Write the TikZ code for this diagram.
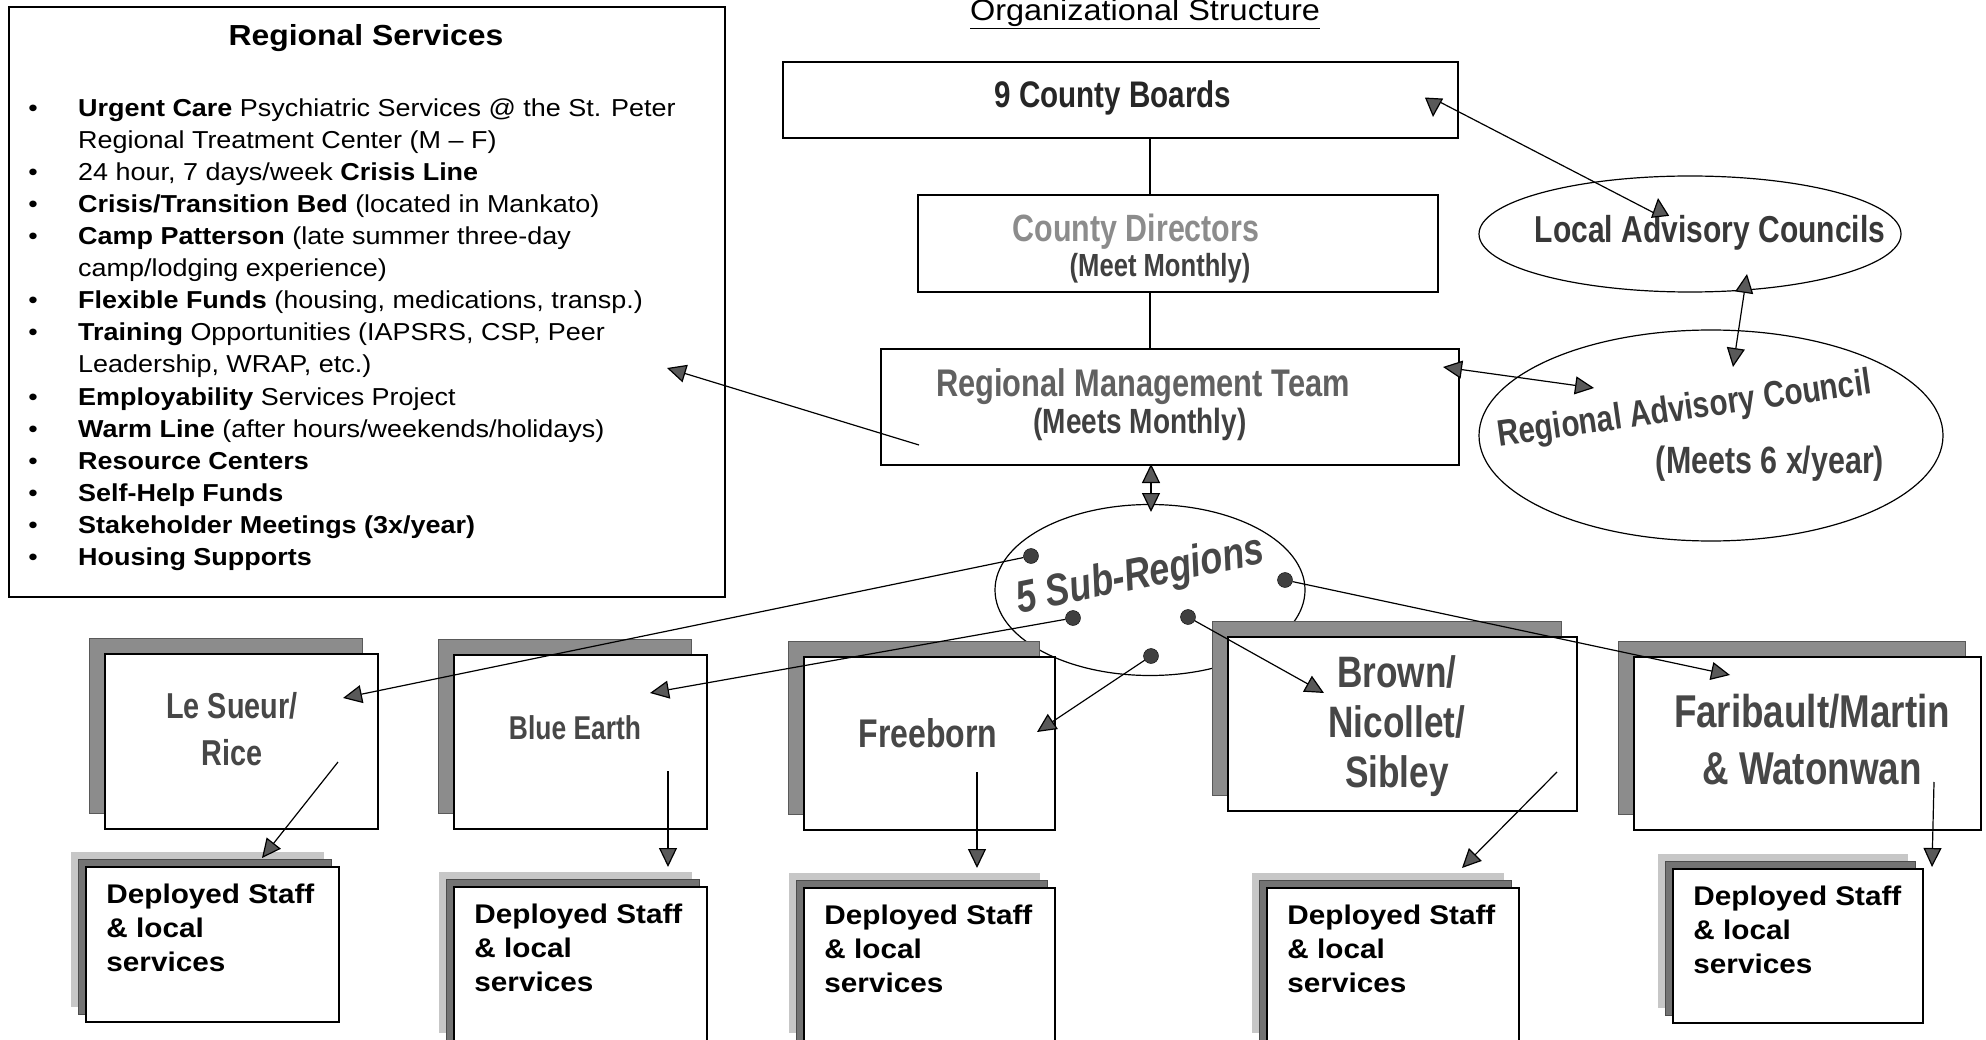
\documentclass[tikz,border=0pt]{standalone}
\usepackage{fontspec}
\setmainfont{Liberation Sans}[FakeStretch=1.1]
\newfontfamily\narrowfont{Liberation Sans}[FakeStretch=0.8]
\usetikzlibrary{arrows.meta, shapes.geometric, shadows, calc}

\begin{document}
\begin{tikzpicture}[x = 1pt, y = -1pt,
	> = {Triangle[length = 19pt, width = 18pt, fill = black!65]},
	link/.style = {line width = 1.2pt},
	plainbox/.style = {draw, line width = 1.5pt, inner sep = 0pt},
	regbox/.style = {plainbox, fill = white,
		copy shadow = {shadow xshift = -16pt, shadow yshift = 16pt, fill = black!45, draw = black!65, line width = 0.6pt}},
	staffbox/.style = {plainbox, fill = white,
		copy shadow = {shadow xshift = -15pt, shadow yshift = 15pt, fill = black!22, draw = none},
		copy shadow = {shadow xshift = -7.5pt, shadow yshift = 7.5pt, fill = black!55, draw = black!70, line width = 0.6pt}},
	council/.style = {draw, ellipse, line width = 1.2pt, inner sep = 0pt},
	hub/.style = {circle, fill = black!75, draw = black, minimum size = 15pt, inner sep = 0pt},
	txt/.style = {inner sep = 0pt, anchor = base},
	boxtxt/.style = {inner sep = 0pt, align = center, text = black!72,
		font = \narrowfont\bfseries},
	stafftxt/.style = {inner sep = 0pt, anchor = north west, align = left,
		font = \bfseries\fontsize{27}{34}\selectfont}]

	% Page
	
	\useasboundingbox (0, 0) rectangle (1986, 1040);
	\clip (0, 0) rectangle (1986, 1040);
	
	\def\L{32}		% Line spacing of the services list
	
	% Regional services list
	
	\node [plainbox, line width = 1.8pt, minimum width = 716pt, minimum height = 590pt] (serv) at (367, 302) {};
	\node [txt, font = \bfseries\fontsize{29}{34}\selectfont] (servtitle) at (366, 46) {Regional Services};
	
	\foreach \n/\txt in {1/{\textbf{Urgent Care} Psychiatric Services @ the St. Peter},
		2/{Regional Treatment Center (M \textendash{} F)},
		3/{24 hour, 7 days/week \textbf{Crisis Line}},
		4/{\textbf{Crisis/Transition Bed} (located in Mankato)},
		5/{\textbf{Camp Patterson} (late summer three-day},
		6/{camp/lodging experience)},
		7/{\textbf{Flexible Funds} (housing, medications, transp.)},
		8/{\textbf{Training} Opportunities (IAPSRS, CSP, Peer},
		9/{Leadership, WRAP, etc.)},
		10/{\textbf{Employability} Services Project},
		11/{\textbf{Warm Line} (after hours/weekends/holidays)},
		12/{\textbf{Resource Centers}},
		13/{\textbf{Self-Help Funds}},
		14/{\textbf{Stakeholder Meetings (3x/year)}},
		15/{\textbf{Housing Supports}}}
		\node [txt, anchor = base west, font = \fontsize{24.5}{32}\selectfont] (item\n) at (78, {117 + \L * (\n - 1)}) {\txt};
	
	\foreach \n in {1, 3, 4, 5, 7, 8, 10, 11, 12, 13, 14, 15}
		\node [txt, font = \fontsize{24.5}{32}\selectfont] (bullet\n) at (33, {117 + \L * (\n - 1)}) {\textbullet};
	
	% Title
	
	\node [txt, font = \fontsize{29.5}{34}\selectfont] (title) at (1145, 21) {\underline{Organizational Structure}};
	
	% Chain of command
	
	\node [plainbox, minimum width = 675pt, minimum height = 76pt] (cb) at (1120.5, 100) {};
	\node [plainbox, minimum width = 520pt, minimum height = 97pt] (cd) at (1178, 243.5) {};
	\node [plainbox, minimum width = 578pt, minimum height = 116pt] (rmt) at (1170, 407) {};
	
	\node [txt, font = \narrowfont\bfseries\fontsize{37}{40}\selectfont, text = black!85] (cbtxt) at (1113, 108) {9 County Boards};
	\node [txt, font = \narrowfont\bfseries\fontsize{38}{40}\selectfont, text = black!45] (cdtxt) at (1136, 242) {County Directors};
	\node [txt, font = \narrowfont\bfseries\fontsize{32}{40}\selectfont, text = black!75] (cdmeet) at (1160, 277) {(Meet Monthly)};
	\node [txt, font = \narrowfont\bfseries\fontsize{38.5}{40}\selectfont, text = black!62] (rmttxt) at (1143, 396) {Regional Management Team};
	\node [txt, font = \narrowfont\bfseries\fontsize{35}{40}\selectfont, text = black!75] (rmtmeet) at (1140, 433) {(Meets Monthly)};
	
	\coordinate (spine) at (1150, 0);
	\draw [link] (spine |- cb.south) -- (spine |- cd.north);
	\draw [link] (spine |- cd.south) -- (spine |- rmt.north);
	
	% Advisory councils
	
	\node [council, minimum width = 422pt, minimum height = 116pt] (lac) at (1690, 234) {};
	\node [council, minimum width = 464pt, minimum height = 211pt] (rac) at (1711, 435.5) {};
	
	\node [txt, font = \narrowfont\bfseries\fontsize{37.5}{40}\selectfont, text = black!78] (lactxt) at (1710, 243) {Local Advisory Councils};
	\node [txt, rotate = 8, font = \narrowfont\bfseries\fontsize{37}{40}\selectfont, text = black!75] (ractxt) at (1686, 420) {Regional Advisory Council};
	\node [txt, font = \narrowfont\bfseries\fontsize{38}{40}\selectfont, text = black!75] (racmeet) at (1770, 473) {(Meets 6 x/year)};
	
	% Sub-regions
	
	\node [council, minimum width = 310pt, minimum height = 171pt] (sub) at (1150, 590) {};
	\node [txt, rotate = 11.5, font = \narrowfont\bfseries\itshape\fontsize{45}{48}\selectfont, text = black!72] (subtxt) at (1143, 588) {5 Sub-Regions};
	
	% Region boxes
	
	\foreach \name/\cx/\cy/\w/\h in {ls/241.5/741.5/273/175, be/580.5/742/253/174, fb/929.5/743.5/251/173, bns/1402.5/724/349/174, fmw/1807.5/743.5/347/173}
		\node [regbox, minimum width = \w pt, minimum height = \h pt] (\name) at (\cx, \cy) {};
	
	\node [boxtxt, font = \narrowfont\bfseries\fontsize{36}{47}\selectfont] (lstxt) at (232, 729) {Le Sueur/\\Rice};
	\node [boxtxt, font = \narrowfont\bfseries\fontsize{33}{40}\selectfont] (betxt) at (575, 728) {Blue Earth};
	\node [boxtxt, font = \narrowfont\bfseries\fontsize{40}{44}\selectfont] (fbtxt) at (928, 733) {Freeborn};
	\node [boxtxt, font = \narrowfont\bfseries\fontsize{44}{50}\selectfont] (bnstxt) at (1397, 726) {Brown/\\Nicollet/\\Sibley};
	\node [boxtxt, font = \narrowfont\bfseries\fontsize{46}{57}\selectfont] (fmwtxt) at (1812, 740) {Faribault/Martin\\\& Watonwan};
	
	% Deployed staff boxes
	
	\foreach \name/\cx/\cy/\w/\h in {d1/212.5/944.5/253/155, d2/580.5/967.5/253/161, d3/929.5/968/251/160, d4/1393/968/252/160, d5/1798/946/250/154} {
		\node [staffbox, minimum width = \w pt, minimum height = \h pt] (\name) at (\cx, \cy) {};
		\node [stafftxt] (\name txt) at ($(\name.north west) + (21, 17)$) {Deployed Staff\\\& local\\services};
	}
	
	% Advisory links
	
	\coordinate (cbend) at (1433, 117);
	\coordinate (cbfoot) at (1434, 99);
	\coordinate (lacfoot) at (1660, 216);
	\coordinate (lactop) at (1658, 198);
	\coordinate (lacbot) at (1747, 274);
	\coordinate (ractop) at (1733, 367);
	\coordinate (rmtright) at (1443, 367);
	\coordinate (racleft) at (1594, 388);
	\coordinate (rmtbot) at (1151, 464);
	\coordinate (subtop) at (1151, 512);
	\coordinate (rmtleft) at (919, 445);
	\coordinate (servend) at (667, 368);
	
	\draw [link, <->] (cbend) -- (cbfoot) -- (lacfoot) -- (lactop);
	\draw [link, <->] (lacbot) -- (ractop);
	\draw [link, <->] (rmtright) -- (racleft);
	\draw [link, <->] (rmtbot) -- (subtop);
	\draw [link, ->] (rmtleft) -- (servend);
	
	% Sub-region hubs and their regions
	
	\foreach \d/\x/\y/\r/\ex/\ey in {1/1031/556/ls/343/698, 2/1073/618/be/650/693, 3/1151/656/fb/1037/732, 4/1188/617/bns/1324/693, 5/1285/580/fmw/1730/675} {
		\node [hub] (dot\d) at (\x, \y) {};
		\coordinate (\r in) at (\ex, \ey);
		\draw [link, ->] (dot\d) -- (\r in);
	}
	
	% Regions to deployed staff
	
	\foreach \r/\sx/\sy/\ex/\ey in {ls/338/762/262/858, be/668/771/668/867, fb/977/772/977/868, bns/1557/772/1462/868, fmw/1934/782/1932/867} {
		\coordinate (\r out) at (\sx, \sy);
		\coordinate (\r staff) at (\ex, \ey);
		\draw [link, ->] (\r out) -- (\r staff);
	}

\end{tikzpicture}
\end{document}
